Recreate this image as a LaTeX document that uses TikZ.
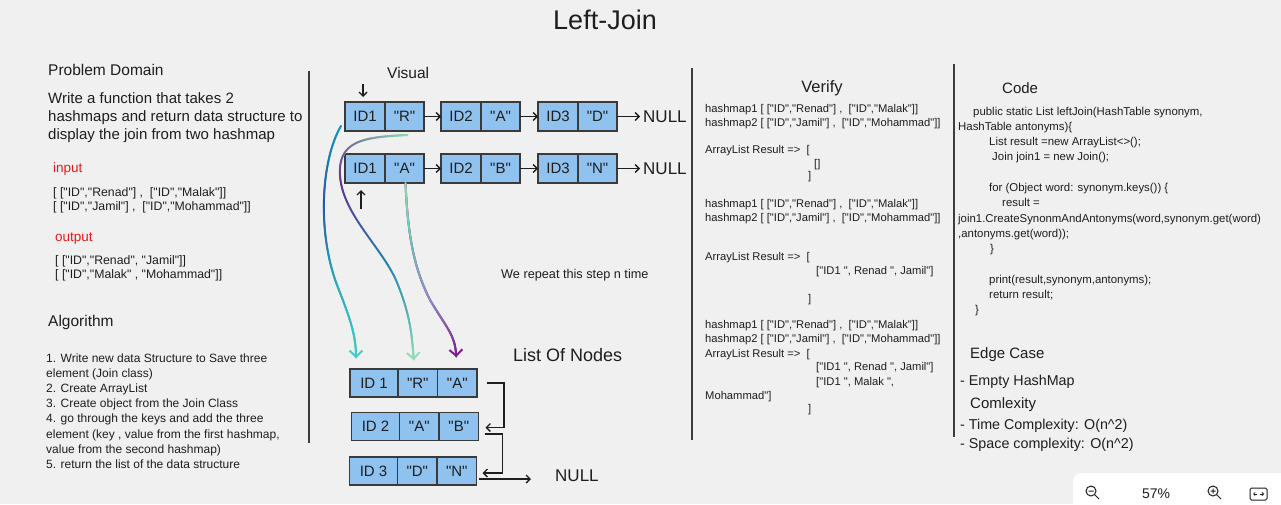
\documentclass[tikz,border=0pt]{standalone}
\usepackage{fontspec}
\setmainfont{Liberation Sans}[Ligatures=TeXOff]
\usetikzlibrary{arrows.meta,positioning,calc,decorations.markings}
\definecolor{bg}{HTML}{F0F0F0}
\definecolor{ink}{HTML}{1E1E1E}
\definecolor{rule}{HTML}{3C3C3C}
\definecolor{cellfill}{HTML}{90C2F0}
\definecolor{cellline}{HTML}{3A3A3A}
\definecolor{hot}{HTML}{E81A1A}
\definecolor{aqua}{HTML}{2191B8}
\definecolor{navy}{HTML}{2A55A8}
\definecolor{sea}{HTML}{2AA8B8}
\definecolor{cyanl}{HTML}{45CFC4}
\definecolor{mint}{HTML}{8ED9B0}
\definecolor{plum}{HTML}{6A2C92}
\definecolor{blu}{HTML}{2282B8}
\definecolor{mintb}{HTML}{95DDB8}
\definecolor{mintc}{HTML}{6CC6AE}
\definecolor{lav}{HTML}{8A8CC6}
\definecolor{grape}{HTML}{7A1E8E}
\newcommand\fsz[2]{\fontsize{#1}{#2}\selectfont}
\tikzset{
  cell/.style={draw=cellline,line width=1.2pt,fill=cellfill,outer sep=0pt,inner sep=0pt,
    minimum height=29pt,minimum width=40pt,font=\fsz{15}{15},text=ink},
  vcell/.style={cell,minimum width=39pt},
  lcell/.style={cell,minimum height=28pt,minimum width=48pt},
  lvcell/.style={lcell,minimum width=39.5pt},
  txt/.style={anchor=west,inner sep=0pt,align=left,text=ink},
  head/.style={txt,font=\fsz{15.5}{18}},
  body/.style={txt,font=\fsz{12.3}{14}},
  vtxt/.style={txt,font=\fsz{11.2}{14}},
  ar/.style={-{Straight Barb[length=4pt,width=8pt]},line width=1.3pt,draw=ink},
  sep/.style={line width=1.6pt,draw=rule},
  curve/.style={line width=2pt,-{Straight Barb[length=6pt,width=13pt]}},
  grad/.style n args={4}{curve,draw=#4,postaction={decorate,decoration={markings,
      mark=between positions 0 and 1 step 0.5pt with {%
        \pgfmathtruncatemacro\gpos{(\pgfkeysvalueof{/pgf/decoration/mark info/distance from start}/\pgfdecoratedpathlength)*300}%
        \ifnum\gpos<100 \pgfmathtruncatemacro\gmix{100-\gpos}\colorlet{gcol}{#1!\gmix!#2}%
        \else\ifnum\gpos<200 \pgfmathtruncatemacro\gmix{200-\gpos}\colorlet{gcol}{#2!\gmix!#3}%
        \else \pgfmathtruncatemacro\gmix{300-\gpos}\colorlet{gcol}{#3!\gmix!#4}\fi\fi
        \fill[gcol] (0,0) circle (1pt);}}}},
}

\begin{document}
\begin{tikzpicture}[x=1pt,y=-1pt]
  \useasboundingbox (0,0) rectangle (1281,504);
  \fill[bg] (0,0) rectangle (1281,504);

  % title and column rules
  \node[text=ink,font=\fsz{27}{27}] (ttl) at (605,20) {Left-Join};
  \draw[sep] (309,71) -- (309,443);
  \draw[sep] (692,68) -- (692,440);
  \draw[sep] (954,64) -- (954,437);

  % problem domain
  \node[head] (pd) at (48,70) {Problem Domain};
  \node[txt,font=\fsz{15}{18}] (pdtxt) at (48,118) {Write a function that takes 2\\hashmaps and return data structure to\\display the join from two hashmap};
  \node[txt,font=\fsz{13.5}{14},text=hot] (inlbl) at (53,169) {input};
  \node[body] (intxt) at (53,200) {[ ["ID","Renad"] ,\ \ ["ID","Malak"]]\\\relax[ ["ID","Jamil"] ,\ \ ["ID","Mohammad"]]};
  \node[txt,font=\fsz{13.5}{14},text=hot] (outlbl) at (55,239) {output};
  \node[body] (outtxt) at (55,268) {[ ["ID","Renad", "Jamil"]]\\\relax[ ["ID","Malak" , "Mohammad"]]};
  \node[head] (alg) at (48,322) {Algorithm};
  \node[txt,font=\fsz{12}{15.15}] (algtxt) at (46,411) {1. Write new data Structure to Save three\\element (Join class)\\2. Create ArrayList\\3. Create object from the Join Class\\4. go through the keys and add the three\\element (key , value from the first hashmap,\\value from the second hashmap)\\5. return the list of the data structure};

  % visual: two linked lists
  \node[head] (vis) at (387,73) {Visual};
  \node[cell] (r1k1) at (365,116.5) {ID1};
  \node[vcell,right=0pt of r1k1] (r1v1) {"R"};
  \node[cell,right=17pt of r1v1] (r1k2) {ID2};
  \node[vcell,right=0pt of r1k2] (r1v2) {"A"};
  \node[cell,right=18pt of r1v2] (r1k3) {ID3};
  \node[vcell,right=0pt of r1k3] (r1v3) {"D"};
  \node[txt,font=\fsz{17}{17},right=26pt of r1v3] (n1) {NULL};
  \node[cell] (r2k1) at (365,168.5) {ID1};
  \node[vcell,right=0pt of r2k1] (r2v1) {"A"};
  \node[cell,right=17pt of r2v1] (r2k2) {ID2};
  \node[vcell,right=0pt of r2k2] (r2v2) {"B"};
  \node[cell,right=18pt of r2v2] (r2k3) {ID3};
  \node[vcell,right=0pt of r2k3] (r2v3) {"N"};
  \node[txt,font=\fsz{17}{17},right=26pt of r2v3] (n2) {NULL};
  \draw[ar] (r1v1.east) -- (r1k2.west);
  \draw[ar] (r1v2.east) -- (r1k3.west);
  \draw[ar] (r1v3.east) -- ([xshift=-3pt]n1.west);
  \draw[ar] (r2v1.east) -- (r2k2.west);
  \draw[ar] (r2v2.east) -- (r2k3.west);
  \draw[ar] (r2v3.east) -- ([xshift=-3pt]n2.west);
  \coordinate (hd1) at ([xshift=-2pt,yshift=18pt]r1k1.north);
  \draw[ar] (hd1) -- ([xshift=-2pt,yshift=5pt]r1k1.north);
  \coordinate (hd2) at ([xshift=-4pt,yshift=-26pt]r2k1.south);
  \draw[ar] (hd2) -- ([xshift=-4pt,yshift=-7pt]r2k1.south);
  \node[txt,font=\fsz{12.7}{14}] (rep) at (501,275) {We repeat this step n time};

  % list of nodes
  \node[txt,font=\fsz{18}{18}] (lon) at (513,355) {List Of Nodes};
  \node[lcell] (l1k) at (374,383) {ID 1};
  \node[lvcell,right=0pt of l1k] (l1a) {"R"};
  \node[lvcell,right=0pt of l1a] (l1b) {"A"};
  \node[lcell] (l2k) at (375.5,426.5) {ID 2};
  \node[lvcell,right=0pt of l2k] (l2a) {"A"};
  \node[lvcell,right=0pt of l2a] (l2b) {"B"};
  \node[lcell] (l3k) at (373.5,471) {ID 3};
  \node[lvcell,right=0pt of l3k] (l3a) {"D"};
  \node[lvcell,right=0pt of l3a] (l3b) {"N"};
  \node[txt,font=\fsz{17}{17}] (lnull) at (555,476) {NULL};
  \draw[ar] ([xshift=10pt]l1b.east) -- ++(17,0) |- ([xshift=7pt,yshift=-1pt]l2b.east);
  \draw[ar] ([xshift=6pt,yshift=-7.5pt]l2b.east) -- ++(18,0) |- ([xshift=6pt,yshift=-2pt]l3b.east);
  \draw[ar] ([xshift=2pt,yshift=-8pt]l3b.east) -- ($(lnull.west)+(-24,3)$);

  % mapping curves
  \draw[grad={aqua}{navy}{sea}{cyanl}] ([xshift=-4pt,yshift=5pt]r1k1.south west)
    .. controls (321,160) and (317,232) .. (337,285)
    .. controls (350,318) and (356,335) .. ([xshift=6pt,yshift=11pt]l1k.north west);
  \draw[grad={mint}{plum}{blu}{mintb}] ([xshift=3pt,yshift=-4pt]r1v1.south)
    .. controls (365,137) and (338,140) .. (340,175)
    .. controls (342,215) and (385,250) .. (398,285)
    .. controls (410,315) and (412,335) .. ([xshift=-4pt,yshift=9pt]l1a.north);
  \draw[grad={mint}{mintc}{lav}{grape}] ([xshift=1pt]r2v1.south)
    .. controls (408,240) and (415,270) .. (430,300)
    .. controls (448,330) and (455,335) .. ([xshift=-1pt,yshift=12pt]l1b.north);

  % verify
  \node[text=ink,font=\fsz{16.5}{16.5}] (ver) at (822,88) {Verify};
  \node[vtxt] (v1) at (705,117) {hashmap1 [ ["ID","Renad"] ,\ \ ["ID","Malak"]]\\hashmap2 [ ["ID","Jamil"] ,\ \ ["ID","Mohammad"]]};
  \node[vtxt] (v2) at (705,151) {ArrayList Result =>\ \ [};
  \node[vtxt] (v3) at (814,165) {[]};
  \node[vtxt] (v4) at (808,177) {]};
  \node[vtxt] (v5) at (705,212) {hashmap1 [ ["ID","Renad"] ,\ \ ["ID","Malak"]]\\hashmap2 [ ["ID","Jamil"] ,\ \ ["ID","Mohammad"]]};
  \node[vtxt] (v6) at (705,258) {ArrayList Result =>\ \ [};
  \node[vtxt] (v7) at (816,272) {["ID1 ", Renad ", Jamil"]};
  \node[vtxt] (v8) at (808,300) {]};
  \node[vtxt,font=\fsz{11.2}{14.5}] (v9) at (705,340) {hashmap1 [ ["ID","Renad"] ,\ \ ["ID","Malak"]]\\hashmap2 [ ["ID","Jamil"] ,\ \ ["ID","Mohammad"]]\\ArrayList Result =>\ \ [};
  \node[vtxt,font=\fsz{11.2}{14.5}] (v10) at (816,375) {["ID1 ", Renad ", Jamil"]\\\relax["ID1 ", Malak ",};
  \node[vtxt] (v11) at (705,397) {Mohammad"]};
  \node[vtxt] (v12) at (808,410) {]};

  % code
  \node[txt,font=\fsz{15}{15}] (code) at (1002,88) {Code};
  \node[txt,font=\fsz{11.4}{15.3}] (codetxt) at (958,211.5) {\hspace*{15pt}public static List leftJoin(HashTable synonym,\\HashTable antonyms)\{\\\hspace*{31pt}List result =new ArrayList<>();\\\hspace*{34pt}Join join1 = new Join();\\\mbox{}\\\hspace*{31pt}for (Object word: synonym.keys()) \{\\\hspace*{44pt}result =\\join1.CreateSynonmAndAntonyms(word,synonym.get(word)\\,antonyms.get(word));\\\hspace*{32pt}\}\\\mbox{}\\\hspace*{31pt}print(result,synonym,antonyms);\\\hspace*{31pt}return result;\\\hspace*{17pt}\}};

  % edge case and complexity
  \node[txt,font=\fsz{15}{15}] (edge) at (970,355) {Edge Case};
  \node[txt,font=\fsz{14.3}{15}] (edgetxt) at (960,382) {- Empty HashMap};
  \node[txt,font=\fsz{15}{15}] (cplx) at (970,405) {Comlexity};
  \node[txt,font=\fsz{14.3}{19.5}] (cplxtxt) at (960,435.5) {- Time Complexity: O(n\textasciicircum 2)\\- Space complexity: O(n\textasciicircum 2)};

  % zoom widget
  \fill[white,rounded corners=8pt] (1073,473) rectangle (1300,520);
  \draw[line width=1pt,draw=ink] (1091,491) circle (5) (1094.5,494.5) -- (1099,499) (1088.5,491) -- (1093.5,491);
  \node[text=ink,font=\fsz{14}{14}] (zoomtxt) at (1156,494) {57\%};
  \draw[line width=1pt,draw=ink] (1213,491) circle (5) (1216.5,494.5) -- (1221,499) (1210.5,491) -- (1215.5,491) (1213,488.5) -- (1213,493.5);
  \draw[line width=1pt,draw=ink,rounded corners=1.5pt] (1250,488) rectangle (1267,500);
  \draw[line width=0.8pt,draw=ink,-{Straight Barb[length=1.5pt,width=3pt]}] (1257,494) -- (1253,494);
  \draw[line width=0.8pt,draw=ink,-{Straight Barb[length=1.5pt,width=3pt]}] (1260,494) -- (1264,494);
\end{tikzpicture}
\end{document}
